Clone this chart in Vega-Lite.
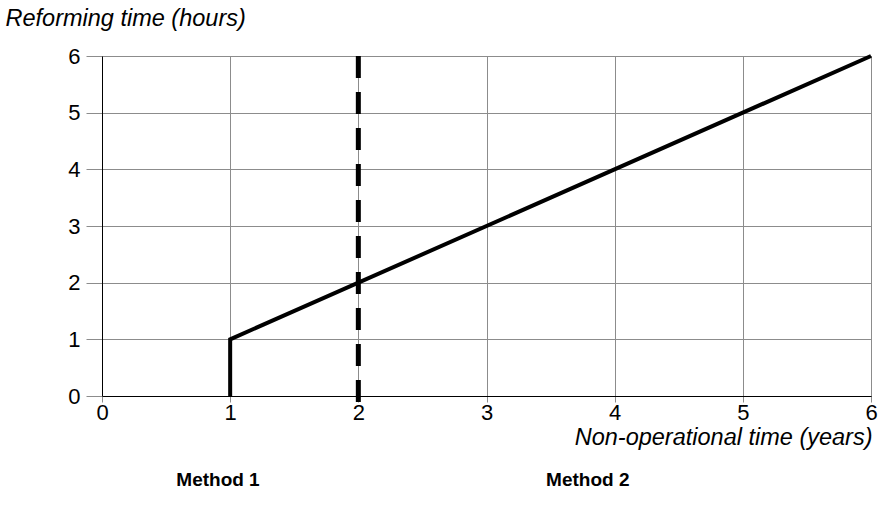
{
  "$schema": "https://vega.github.io/schema/vega-lite/v6.json",
  "width": 769,
  "height": 340,
  "autosize": {"type": "none"},
  "padding": {"left": 102, "top": 56, "right": 10, "bottom": 113},
  "background": "white",
  "config": {
    "font": "Liberation Sans",
    "view": {"stroke": "black", "strokeWidth": 1}
  },
  "layer": [
    {
      "data": {"values": [
        {"years": 1, "hours": 0},
        {"years": 1, "hours": 1},
        {"years": 6, "hours": 6}
      ]},
      "mark": {"type": "line", "color": "black", "strokeWidth": 4, "clip": false},
      "encoding": {
        "x": {
          "field": "years", "type": "quantitative",
          "scale": {"domain": [0, 6], "nice": false, "zero": true},
          "axis": {
            "values": [0, 1, 2, 3, 4, 5, 6],
            "format": "d",
            "labelFont": "Liberation Sans",
            "labelFontSize": 22,
            "labelColor": "black",
            "labelFlush": false,
            "labelBaseline": "top",
            "tickSize": 6,
            "tickColor": "#8c8c8c",
            "labelPadding": 0,
            "gridColor": "#8c8c8c",
            "gridOpacity": 1,
            "domainColor": "black",
            "title": "Non-operational time (years)",
            "titleFont": "Liberation Sans",
            "titleFontSize": 23.5,
            "titleFontWeight": "normal",
            "titleFontStyle": "italic",
            "titleColor": "black",
            "titleAnchor": "end",
            "titleAlign": "right",
            "titleBaseline": "alphabetic",
            "titleX": 770,
            "titleY": 48
          }
        },
        "y": {
          "field": "hours", "type": "quantitative",
          "scale": {"domain": [0, 6], "nice": false},
          "axis": {
            "values": [0, 1, 2, 3, 4, 5, 6],
            "format": "d",
            "labelFont": "Liberation Sans",
            "labelFontSize": 22,
            "labelColor": "black",
            "labelFlush": false,
            "tickSize": 16,
            "tickColor": "#8c8c8c",
            "labelPadding": 6,
            "gridColor": "#8c8c8c",
            "gridOpacity": 1,
            "domainColor": "black",
            "title": "Reforming time (hours)",
            "titleFont": "Liberation Sans",
            "titleFontSize": 23.5,
            "titleFontWeight": "normal",
            "titleFontStyle": "italic",
            "titleColor": "black",
            "titleAngle": 0,
            "titleAlign": "left",
            "titleBaseline": "alphabetic",
            "titleAnchor": "start",
            "titleX": -97,
            "titleY": -31
          }
        },
        "order": {"field": "hours"}
      }
    },
    {
      "data": {"values": [{"years": 2, "top": 6, "bottom": -0.28}]},
      "mark": {"type": "rule", "color": "black", "strokeWidth": 5, "strokeDash": [22, 14], "clip": false},
      "encoding": {
        "x": {"field": "years", "type": "quantitative"},
        "y": {"field": "top", "type": "quantitative"},
        "y2": {"field": "bottom"}
      }
    },
    {
      "data": {"values": [
        {"label": "Method 1", "years": 0.905, "hours": -1.48},
        {"label": "Method 2", "years": 3.79, "hours": -1.48}
      ]},
      "mark": {"type": "text", "fontWeight": "bold", "fontSize": 19, "font": "Liberation Sans", "color": "black", "align": "center", "baseline": "middle", "clip": false},
      "encoding": {
        "x": {"field": "years", "type": "quantitative"},
        "y": {"field": "hours", "type": "quantitative"},
        "text": {"field": "label"}
      }
    }
  ]
}
